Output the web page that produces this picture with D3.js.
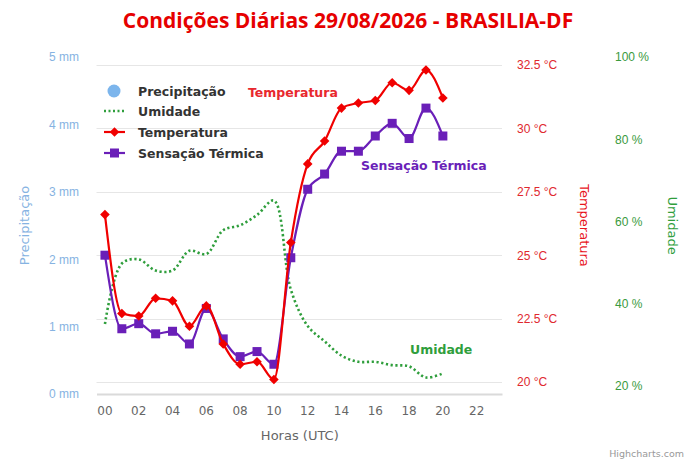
<!DOCTYPE html>
<html><head><meta charset="utf-8">
<script src="https://cdn.jsdelivr.net/npm/d3@7"></script>
<style>
html,body{margin:0;padding:0;background:#fff;}
svg{display:block;font-family:"DejaVu Sans",Verdana,sans-serif;}
</style></head>
<body><svg id="c" width="696" height="464"></svg>
<script>
// ---- data ----
const hours = ["00","01","02","03","04","05","06","07","08","09","10","11","12","13","14","15","16","17","18","19","20","21","22","23"];
const xTickLabels = ["00","02","04","06","08","10","12","14","16","18","20","22"];
const precipitacao = [0,0,0,0,0,0,0,0,0,0,0,0,0,0,0,0,0,0,0,0,0];
const umidade = [35.1,49.8,50.8,48.1,48.1,52.9,52.1,57.9,59.1,61.6,65.1,43.5,34.6,30.9,27.4,25.9,25.9,25.1,24.8,22.1,23.1];
const temperatura = [26.6,22.7,22.6,23.3,23.2,22.2,23.0,21.5,20.7,20.8,20.1,25.5,28.6,29.5,30.8,31.0,31.1,31.8,31.5,32.3,31.2];
const sensacao = [25.0,22.1,22.3,21.9,22.0,21.5,22.9,21.7,21.0,21.2,20.7,24.9,27.6,28.2,29.1,29.1,29.7,30.2,29.6,30.8,29.7];
const precipTicks = [0,1,2,3,4,5];
const tempTicks = [20,22.5,25,27.5,30,32.5];
const umidTicks = [20,40,60,80,100];

// ---- layout ----
const L = 96.5, R = 502, T = 57, B = 394;
const svg = d3.select("#c");
const x = d3.scaleBand().domain(hours).range([L, R]);
const cx = i => x(hours[i]) + x.bandwidth()/2;
const yP = d3.scaleLinear().domain([0,5]).range([B,T]);
const yT = d3.scaleLinear().domain([19.527,32.815]).range([B,T]);
const yU = d3.scaleLinear().domain([18.08,100]).range([B,T]);

const RED = "#f00000", PURPLE = "#6a1fb8", GREEN = "#2f9e3c", BLUE = "#7cb5ec";

// title
svg.append("text").attr("x",348).attr("y",28).attr("text-anchor","middle")
  .style("font-family","'Open Sans',sans-serif").style("font-weight","bold")
  .style("font-size","21px").attr("fill","#e60000")
  .text("Condições Diárias 29/08/2026 - BRASILIA-DF");

// gridlines (temperature axis)
svg.append("g").selectAll("line").data(tempTicks).join("line")
  .attr("x1",L).attr("x2",R).attr("y1",d=>Math.round(yT(d))+0.5).attr("y2",d=>Math.round(yT(d))+0.5)
  .attr("stroke","#e6e6e6").attr("stroke-width",1);

// x axis
const xAxis = d3.axisBottom(x).tickValues(xTickLabels).tickSize(0).tickPadding(12);
const gx = svg.append("g").attr("transform",`translate(0,${B})`).call(xAxis);
gx.select(".domain").attr("stroke","#dadada").attr("stroke-width",2);
gx.selectAll("text").attr("fill","#666").style("font-size","12px").style("font-family","'DejaVu Sans',sans-serif");
svg.append("text").attr("x",x("11")+x.bandwidth()/2+9).attr("y",440).attr("text-anchor","middle")
  .attr("fill","#666").style("font-size","13px").text("Horas (UTC)");

// left axis (precipitation)
const gl = svg.append("g").attr("transform",`translate(79,0)`)
  .call(d3.axisLeft(yP).tickValues(precipTicks).tickSize(0).tickPadding(0).tickFormat(d=>d+" mm"));
gl.select(".domain").remove();
gl.selectAll("text").attr("fill","#86b3e2").style("font-size","12px").attr("text-anchor","end");
svg.append("text").attr("transform",`translate(29,${(T+B)/2}) rotate(-90)`).attr("text-anchor","middle")
  .attr("fill","#86b3e2").style("font-size","13px").text("Precipitação");

// temperature axis (right)
const gt = svg.append("g").attr("transform",`translate(517,0)`)
  .call(d3.axisRight(yT).tickValues(tempTicks).tickSize(0).tickPadding(0).tickFormat(d=>d+" °C"));
gt.select(".domain").remove();
gt.selectAll("text").attr("fill","#e0282e").style("font-size","12px");
svg.append("text").attr("transform",`translate(580,${(T+B)/2}) rotate(90)`).attr("text-anchor","middle")
  .attr("fill","#e8141c").style("font-size","13px").text("Temperatura");

// humidity axis (right)
const gu = svg.append("g").attr("transform",`translate(615,0)`)
  .call(d3.axisRight(yU).tickValues(umidTicks).tickSize(0).tickPadding(0).tickFormat(d=>d+" %"));
gu.select(".domain").remove();
gu.selectAll("text").attr("fill","#3a9a3e").style("font-size","12px");
svg.append("text").attr("transform",`translate(668,${(T+B)/2}) rotate(90)`).attr("text-anchor","middle")
  .attr("fill","#2f9e3c").style("font-size","13px").text("Umidade");

// precipitation columns (zero values)
svg.append("g").selectAll("rect").data(precipitacao).join("rect")
  .attr("x",(d,i)=>cx(i)-5).attr("width",10)
  .attr("y",d=>yP(d)).attr("height",d=>B-yP(d)).attr("fill",BLUE);

// humidity line
const curve = d3.curveMonotoneX;
svg.append("path").datum(umidade)
  .attr("d",d3.line().x((d,i)=>cx(i)).y(d=>yU(d)).curve(d3.curveCatmullRom.alpha(0.5)))
  .attr("fill","none").attr("stroke",GREEN).attr("stroke-width",2.6).attr("stroke-dasharray","2.2,2.6");

// sensação térmica
svg.append("path").datum(sensacao)
  .attr("d",d3.line().x((d,i)=>cx(i)).y(d=>yT(d)).curve(curve))
  .attr("fill","none").attr("stroke",PURPLE).attr("stroke-width",2.2);
svg.append("g").selectAll("rect").data(sensacao).join("rect")
  .attr("x",(d,i)=>cx(i)-4.5).attr("y",d=>yT(d)-4.5).attr("width",9).attr("height",9).attr("fill",PURPLE);

// temperatura
svg.append("path").datum(temperatura)
  .attr("d",d3.line().x((d,i)=>cx(i)).y(d=>yT(d)).curve(curve))
  .attr("fill","none").attr("stroke",RED).attr("stroke-width",2.2);
const diamond = (px,py,r)=>`M${px},${py-r}L${px+r},${py}L${px},${py+r}L${px-r},${py}Z`;
svg.append("g").selectAll("path").data(temperatura).join("path")
  .attr("d",(d,i)=>diamond(cx(i),yT(d),4.8)).attr("fill",RED);

// series labels
const lbl = (t,xx,yy,c)=>svg.append("text").attr("x",xx).attr("y",yy).attr("fill",c)
  .style("font-weight","bold").style("font-size","12.5px").text(t);
lbl("Temperatura",248,97,"#e8282e");
lbl("Sensação Térmica",361,170,PURPLE);
lbl("Umidade",410,354,GREEN);

// legend
const lg = svg.append("g");
const items = [
  {name:"Precipitação", y:91},
  {name:"Umidade", y:111},
  {name:"Temperatura", y:132},
  {name:"Sensação Térmica", y:153}
];
lg.append("circle").attr("cx",114).attr("cy",items[0].y).attr("r",6.5).attr("fill",BLUE);
lg.append("line").attr("x1",104).attr("x2",124).attr("y1",items[1].y).attr("y2",items[1].y)
  .attr("stroke",GREEN).attr("stroke-width",2.4).attr("stroke-dasharray","2,2.5");
lg.append("line").attr("x1",104).attr("x2",125).attr("y1",items[2].y).attr("y2",items[2].y)
  .attr("stroke",RED).attr("stroke-width",2.2);
lg.append("path").attr("d",diamond(114.5,items[2].y,4.8)).attr("fill",RED);
lg.append("line").attr("x1",104).attr("x2",125).attr("y1",items[3].y).attr("y2",items[3].y)
  .attr("stroke",PURPLE).attr("stroke-width",2.2);
lg.append("rect").attr("x",110).attr("y",items[3].y-4.5).attr("width",9).attr("height",9).attr("fill",PURPLE);
lg.selectAll("text").data(items).join("text").attr("x",138).attr("y",d=>d.y+4.5)
  .attr("fill","#333").style("font-weight","bold").style("font-size","12.5px").text(d=>d.name);

// credits
svg.append("text").attr("x",684).attr("y",457).attr("text-anchor","end")
  .attr("fill","#999").style("font-size","9.5px").text("Highcharts.com");
</script></body></html>
